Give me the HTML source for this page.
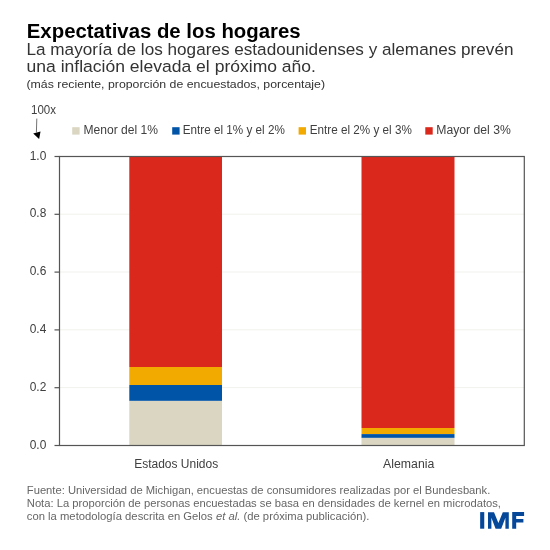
<!DOCTYPE html>
<html><head><meta charset="utf-8">
<style>
html,body{margin:0;padding:0;background:#fff;width:550px;height:550px;overflow:hidden}
svg{display:block;will-change:transform}
text{font-family:"Liberation Sans",sans-serif}
</style></head>
<body>
<svg width="550" height="550" viewBox="0 0 550 550">
<rect x="0" y="0" width="550" height="550" fill="#fff"/>
<!-- title -->
<text x="26.8" y="38.2" font-size="20.3" font-weight="bold" fill="#000" textLength="273.8" lengthAdjust="spacingAndGlyphs">Expectativas de los hogares</text>
<text x="26.5" y="54.8" font-size="16.8" fill="#333" textLength="487" lengthAdjust="spacingAndGlyphs">La mayoría de los hogares estadounidenses y alemanes prevén</text>
<text x="26.5" y="71.8" font-size="16.8" fill="#333" textLength="289.5" lengthAdjust="spacingAndGlyphs">una inflación elevada el próximo año.</text>
<text x="26.5" y="87.9" font-size="11" fill="#333" textLength="298.5" lengthAdjust="spacingAndGlyphs">(más reciente, proporción de encuestados, porcentaje)</text>
<!-- 100x + arrow -->
<text x="31" y="113.6" font-size="12" fill="#404040" textLength="25" lengthAdjust="spacingAndGlyphs">100x</text>
<line x1="36.8" y1="118.6" x2="36.4" y2="132.5" stroke="#444" stroke-width="0.75"/>
<polygon points="33.2,133.4 40.5,131.4 39.1,139.1" fill="#000"/>
<!-- legend -->
<rect x="72.2" y="127.2" width="7.4" height="7.4" fill="#dad6c2"/>
<text x="83.5" y="133.8" font-size="12" fill="#404040" textLength="74.5" lengthAdjust="spacingAndGlyphs">Menor del 1%</text>
<rect x="172.2" y="127.2" width="7.4" height="7.4" fill="#0054a8"/>
<text x="182.8" y="133.8" font-size="12" fill="#404040" textLength="102" lengthAdjust="spacingAndGlyphs">Entre el 1% y el 2%</text>
<rect x="298.6" y="127.2" width="7.4" height="7.4" fill="#f2a900"/>
<text x="309.8" y="133.8" font-size="12" fill="#404040" textLength="102" lengthAdjust="spacingAndGlyphs">Entre el 2% y el 3%</text>
<rect x="425.3" y="127.2" width="7.4" height="7.4" fill="#da291c"/>
<text x="436.3" y="133.8" font-size="12" fill="#404040" textLength="74.5" lengthAdjust="spacingAndGlyphs">Mayor del 3%</text>
<!-- gridlines -->
<g stroke="#f1f1ed" stroke-width="1">
<line x1="59.5" y1="214.2" x2="524" y2="214.2"/>
<line x1="59.5" y1="272" x2="524" y2="272"/>
<line x1="59.5" y1="329.8" x2="524" y2="329.8"/>
<line x1="59.5" y1="387.6" x2="524" y2="387.6"/>
</g>
<!-- bars -->
<rect x="129.3" y="156.4" width="92.7" height="210.6" fill="#da291c"/>
<rect x="129.3" y="367" width="92.7" height="18" fill="#f2a900"/>
<rect x="129.3" y="385" width="92.7" height="15.9" fill="#0054a8"/>
<rect x="129.3" y="400.9" width="92.7" height="44.5" fill="#dad6c2"/>
<rect x="361.5" y="156.4" width="93" height="271.6" fill="#da291c"/>
<rect x="361.5" y="428" width="93" height="6.1" fill="#f2a900"/>
<rect x="361.5" y="434.1" width="93" height="3.8" fill="#0054a8"/>
<rect x="361.5" y="437.9" width="93" height="7.5" fill="#dad6c2"/>
<!-- frame -->
<g stroke="#555" stroke-width="1.2" fill="none">
<rect x="59.5" y="156.5" width="464.8" height="289"/>
<line x1="54.5" y1="156.5" x2="59.5" y2="156.5"/>
<line x1="54.5" y1="214.3" x2="59.5" y2="214.3"/>
<line x1="54.5" y1="272.1" x2="59.5" y2="272.1"/>
<line x1="54.5" y1="329.9" x2="59.5" y2="329.9"/>
<line x1="54.5" y1="387.7" x2="59.5" y2="387.7"/>
<line x1="54.5" y1="445.5" x2="59.5" y2="445.5"/>
</g>
<!-- y labels -->
<g font-size="12.5" fill="#404040" text-anchor="end">
<text x="46.3" y="159.5" textLength="16.6" lengthAdjust="spacingAndGlyphs">1.0</text>
<text x="46.3" y="217.3" textLength="16.6" lengthAdjust="spacingAndGlyphs">0.8</text>
<text x="46.3" y="275.1" textLength="16.6" lengthAdjust="spacingAndGlyphs">0.6</text>
<text x="46.3" y="332.9" textLength="16.6" lengthAdjust="spacingAndGlyphs">0.4</text>
<text x="46.3" y="390.7" textLength="16.6" lengthAdjust="spacingAndGlyphs">0.2</text>
<text x="46.3" y="448.5" textLength="16.6" lengthAdjust="spacingAndGlyphs">0.0</text>
</g>
<!-- x labels -->
<text x="134.2" y="467.9" font-size="12" fill="#404040" textLength="84" lengthAdjust="spacingAndGlyphs">Estados Unidos</text>
<text x="383.1" y="467.9" font-size="12" fill="#404040" textLength="51.2" lengthAdjust="spacingAndGlyphs">Alemania</text>
<!-- footnotes -->
<g font-size="10" fill="#666">
<text x="26.8" y="494.3" textLength="463.5" lengthAdjust="spacingAndGlyphs">Fuente: Universidad de Michigan, encuestas de consumidores realizadas por el Bundesbank.</text>
<text x="26.8" y="506.7" textLength="474.2" lengthAdjust="spacingAndGlyphs">Nota: La proporción de personas encuestadas se basa en densidades de kernel en microdatos,</text>
<text x="26.8" y="519.5" textLength="342.5" lengthAdjust="spacingAndGlyphs">con la metodología  descrita en Gelos <tspan font-style="italic">et al.</tspan> (de próxima publicación).</text>
</g>
<!-- IMF logo -->
<g fill="#05489a">
<rect x="480.15" y="512.1" width="4.1" height="16.6"/>
<path d="M488,528.7 V512.2 H494 L498.4,523 L502.8,512.2 H508.8 V528.7 H505.4 V517.8 L501.2,528.7 H495.6 L491.4,517.8 V528.7 Z"/>
<path d="M512.2,528.7 V512.1 H524.1 V515.9 H516.2 V518.9 H523.4 V522.4 H516.2 V528.7 Z"/>
</g>
</svg>
</body></html>
